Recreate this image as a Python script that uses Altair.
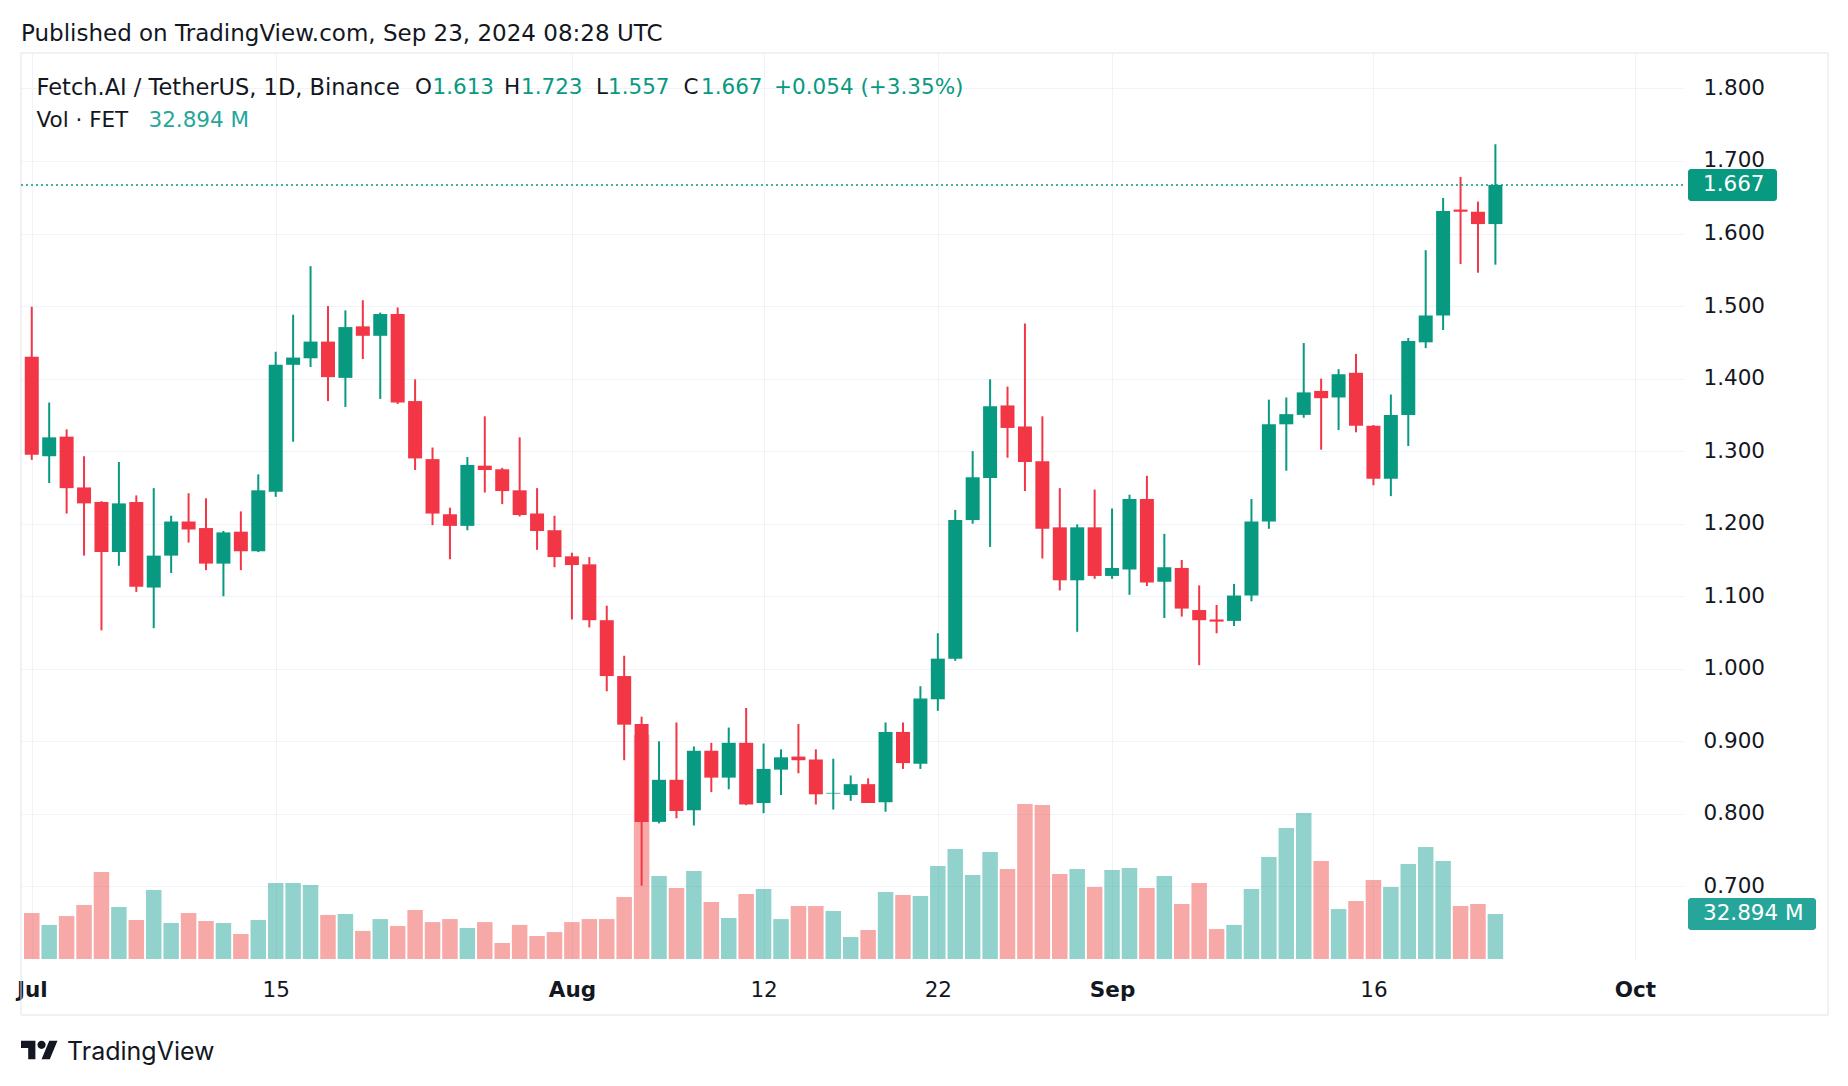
import altair as alt
import pandas as pd

# ---------------- data (FET/USDT daily, Jul 1 -> Sep 23, 2024) ----------------
opens = [1.430, 1.293, 1.320, 1.250, 1.230, 1.161, 1.230, 1.112, 1.156, 1.203,
         1.194, 1.145, 1.189, 1.162, 1.244, 1.419, 1.428, 1.451, 1.401, 1.472,
         1.459, 1.489, 1.369, 1.289, 1.213, 1.197, 1.280, 1.275, 1.246, 1.214,
         1.191, 1.155, 1.144, 1.067, 0.990, 0.924, 0.789, 0.847, 0.805, 0.887,
         0.850, 0.898, 0.815, 0.861, 0.879, 0.875, 0.828, 0.826, 0.841, 0.816,
         0.913, 0.869, 0.958, 1.014, 1.205, 1.263, 1.363, 1.334, 1.286, 1.195,
         1.122, 1.195, 1.128, 1.137, 1.234, 1.120, 1.139, 1.081, 1.068, 1.066,
         1.101, 1.203, 1.337, 1.350, 1.383, 1.374, 1.408, 1.335, 1.262, 1.350,
         1.450, 1.487, 1.633, 1.630, 1.613]
highs = [1.499, 1.367, 1.330, 1.293, 1.231, 1.285, 1.239, 1.249, 1.211, 1.242,
         1.235, 1.190, 1.217, 1.268, 1.437, 1.488, 1.555, 1.500, 1.494, 1.508,
         1.491, 1.498, 1.399, 1.305, 1.222, 1.292, 1.348, 1.277, 1.319, 1.249,
         1.211, 1.160, 1.154, 1.087, 1.018, 0.934, 0.900, 0.926, 0.893, 0.898,
         0.919, 0.946, 0.897, 0.889, 0.924, 0.889, 0.876, 0.853, 0.849, 0.926,
         0.926, 0.976, 1.049, 1.219, 1.300, 1.399, 1.389, 1.476, 1.348, 1.249,
         1.199, 1.247, 1.221, 1.240, 1.266, 1.186, 1.150, 1.115, 1.088, 1.117,
         1.234, 1.371, 1.374, 1.449, 1.400, 1.413, 1.434, 1.336, 1.378, 1.456,
         1.577, 1.649, 1.678, 1.644, 1.723]
lows = [1.288, 1.256, 1.214, 1.156, 1.053, 1.142, 1.106, 1.056, 1.132, 1.174,
        1.136, 1.100, 1.136, 1.161, 1.237, 1.313, 1.416, 1.369, 1.361, 1.427,
        1.372, 1.365, 1.274, 1.198, 1.151, 1.191, 1.243, 1.227, 1.210, 1.164,
        1.140, 1.068, 1.057, 0.969, 0.874, 0.701, 0.787, 0.794, 0.784, 0.830,
        0.834, 0.812, 0.801, 0.826, 0.856, 0.813, 0.806, 0.818, 0.815, 0.803,
        0.862, 0.862, 0.942, 1.011, 1.200, 1.168, 1.291, 1.245, 1.152, 1.108,
        1.051, 1.124, 1.124, 1.102, 1.114, 1.070, 1.072, 1.005, 1.049, 1.059,
        1.093, 1.193, 1.273, 1.346, 1.302, 1.329, 1.326, 1.253, 1.238, 1.307,
        1.442, 1.467, 1.558, 1.546, 1.557]
closes = [1.295, 1.319, 1.249, 1.228, 1.161, 1.228, 1.113, 1.156, 1.203, 1.192,
          1.145, 1.188, 1.162, 1.246, 1.419, 1.429, 1.451, 1.402, 1.471, 1.459,
          1.489, 1.367, 1.290, 1.214, 1.197, 1.281, 1.274, 1.245, 1.212, 1.190,
          1.154, 1.143, 1.067, 0.990, 0.923, 0.789, 0.847, 0.804, 0.887, 0.850,
          0.898, 0.813, 0.862, 0.878, 0.874, 0.827, 0.829, 0.841, 0.815, 0.913,
          0.870, 0.959, 1.014, 1.205, 1.264, 1.362, 1.332, 1.285, 1.193, 1.122,
          1.195, 1.128, 1.139, 1.234, 1.119, 1.140, 1.083, 1.067, 1.065, 1.101,
          1.203, 1.337, 1.351, 1.381, 1.373, 1.406, 1.335, 1.262, 1.350, 1.452,
          1.487, 1.631, 1.630, 1.613, 1.667]
volumes = [33.6, 24.9, 31.4, 39.5, 63.6, 38.0, 28.5, 50.4, 26.3, 33.6,
           27.8, 26.3, 18.3, 28.5, 55.6, 55.6, 54.1, 32.2, 32.9, 20.5,
           29.2, 24.1, 35.8, 27.0, 29.2, 22.7, 27.0, 11.7, 24.9, 16.8,
           19.7, 27.0, 29.2, 29.2, 45.3, 164.0, 60.7, 51.9, 64.3, 41.7,
           30.0, 47.5, 51.2, 29.2, 38.7, 38.7, 35.1, 16.1, 21.2, 49.0,
           46.8, 46.1, 68.0, 80.4, 61.4, 78.2, 65.8, 113.3, 112.6, 62.1,
           65.8, 52.6, 65.1, 66.5, 51.9, 60.7, 40.2, 55.6, 21.9, 24.9,
           51.2, 74.6, 95.8, 106.7, 71.6, 36.5, 42.4, 57.7, 52.6, 69.4,
           81.9, 71.6, 38.7, 40.2, 32.894]

tick_days = [0, 14, 31, 42, 52, 62, 77, 92]          # days since Jul 1
tick_labels = ["Jul", "15", "Aug", "12", "22", "Sep", "16", "Oct"]
bold_labels = ["Jul", "Aug", "Sep", "Oct"]
price_ticks = [0.7, 0.8, 0.9, 1.0, 1.1, 1.2, 1.3, 1.4, 1.5, 1.6, 1.7, 1.8]

published = "Published on TradingView.com, Sep 23, 2024 08:28 UTC"
pair_name = "Fetch.AI / TetherUS, 1D, Binance"
vol_name = "Vol · FET"
brand = "TradingView"

# ---------------- styling ----------------
FONT = "DejaVu Sans"
BRAND_FONT = "Inter"
INK = "#131722"
UP = "#089981"
DOWN = "#F23645"
VUP = "#26a69a"
VDOWN = "#ef5350"
GRID = "#f0f3fa"
BOX = "#e0e3eb"
FS = 21.5
W, H = 1662, 906

n = len(opens)
df = pd.DataFrame({"day": list(range(n)), "open": opens, "high": highs,
                   "low": lows, "close": closes, "volume": volumes})
df["up"] = df["close"] >= df["open"]
last = df.tail(1).copy()
dummy = pd.DataFrame({"k": [0]})

chg = closes[-1] - closes[-2]
pct = chg / closes[-2] * 100

x_scale = alt.Scale(domain=[-0.331, 94.48], nice=False, zero=False)
y_scale = alt.Scale(domain=[0.6, 1.8488], nice=False, zero=False)
v_scale = alt.Scale(domain=[0, 662.3], nice=False, zero=True)

label_expr = "".join(f"datum.value == {d} ? '{l}' : " for d, l in zip(tick_days, tick_labels)) + "''"
bold_test = " || ".join(f"datum.value == {d}" for d, l in zip(tick_days, tick_labels) if l in bold_labels)

x_axis = alt.Axis(values=tick_days, labelExpr=label_expr, labelFlush=False, labelOverlap=False,
                  grid=True, gridColor=GRID, gridWidth=1, ticks=False, domain=False,
                  labelFont=FONT, labelFontSize=FS, labelColor=INK, labelPadding=20, labelAngle=0,
                  labelFontWeight={"condition": {"test": bold_test, "value": "bold"}, "value": "normal"})
y_axis = alt.Axis(orient="right", values=price_ticks, format=".3f", grid=True, gridColor=GRID,
                  ticks=False, domain=False, labelFont=FONT, labelFontSize=FS, labelColor=INK,
                  labelPadding=20, labelAlign="left", labelBaseline="middle")

X = alt.X("day:Q", scale=x_scale, axis=x_axis, title=None)
candle_color = alt.condition("datum.up", alt.value(UP), alt.value(DOWN))
vol_color = alt.condition("datum.up", alt.value(VUP), alt.value(VDOWN))

# ---------------- volume pane ----------------
vol_bars = alt.Chart(df).mark_bar(size=15.5, clip=True, opacity=0.5).encode(
    x=X, y=alt.Y("volume:Q", scale=v_scale, axis=None), color=vol_color)
vol_box = alt.Chart(last).mark_rect(cornerRadius=3, yOffset=-16, y2Offset=16, color=VUP).encode(
    x=alt.value(W + 5), x2=alt.value(W + 133),
    y=alt.Y("volume:Q", scale=v_scale, axis=None), y2=alt.Y2("volume"))
vol_txt = alt.Chart(last).transform_calculate(
    lbl="format(datum.volume, '.3f') + ' M'"
).mark_text(align="left", baseline="middle", color="white", font=FONT, fontSize=FS).encode(
    x=alt.value(W + 20), y=alt.Y("volume:Q", scale=v_scale, axis=None), text="lbl:N")
vol_group = alt.layer(vol_bars, vol_box, vol_txt)

# ---------------- price pane ----------------
box = alt.Chart(dummy).mark_rect(fill="white", fillOpacity=0, stroke=BOX, strokeWidth=1).encode(
    x=alt.value(0), x2=alt.value(1807), y=alt.value(0), y2=alt.value(962))
wicks = alt.Chart(df).mark_rule(strokeWidth=2, clip=True).encode(
    x=X, y=alt.Y("low:Q", scale=y_scale, axis=y_axis, title=None), y2=alt.Y2("high"),
    color=candle_color)
bodies = alt.Chart(df).mark_bar(size=14, clip=True).encode(
    x=X, y=alt.Y("open:Q", scale=y_scale, axis=y_axis, title=None), y2=alt.Y2("close"),
    color=candle_color)
last_line = alt.Chart(last).mark_rule(strokeDash=[2, 3], strokeWidth=1.5, color=UP).encode(
    x=alt.value(0), x2=alt.value(W),
    y=alt.Y("close:Q", scale=y_scale, axis=y_axis, title=None))
price_box = alt.Chart(last).mark_rect(cornerRadius=3, yOffset=-16, y2Offset=16, color=UP).encode(
    x=alt.value(W + 5), x2=alt.value(W + 94),
    y=alt.Y("close:Q", scale=y_scale, axis=y_axis, title=None), y2=alt.Y2("close"))
price_txt = alt.Chart(last).transform_calculate(
    lbl="format(datum.close, '.3f')"
).mark_text(align="left", baseline="middle", color="white", font=FONT, fontSize=FS).encode(
    x=alt.value(W + 20), y=alt.Y("close:Q", scale=y_scale, axis=y_axis, title=None), text="lbl:N")


def label(text, px, py, color=INK, size=FS, weight="normal", font=FONT):
    return alt.Chart(dummy).mark_text(
        text=text, align="left", baseline="middle", font=font, fontSize=size,
        fontWeight=weight, color=color
    ).encode(x=alt.value(px), y=alt.value(py))


chg_color = UP if chg >= 0 else DOWN
header_segments = [
    (pair_name, INK), ("O", INK), (f"{opens[-1]:.3f}", chg_color),
    ("H", INK), (f"{highs[-1]:.3f}", chg_color),
    ("L", INK), (f"{lows[-1]:.3f}", chg_color),
    ("C", INK), (f"{closes[-1]:.3f}", chg_color),
    (f"{chg:+.3f} ({pct:+.2f}%)", chg_color),
]
header_x = [15.5, 394, 411.5, 483, 500, 575, 587, 662.6, 680, 753]
header_size = [22.5] + [FS] * 9
texts = [label(t, px, 35, c, sz) for (t, c), px, sz in zip(header_segments, header_x, header_size)]
texts.append(label(vol_name, 15.5, 68))
texts.append(label(f"{volumes[-1]:.3f} M", 127.5, 68, VUP))
texts.append(label(published, 0, -19, INK, 23))
texts.append(label(brand, 46, H + 93, INK, 25, font=BRAND_FONT))

logo_path = ("M-0.222,0.444H-0.611V-0.167H-1V-0.556H-0.222Z "
             "M0.556,0.444H0.111L0.528,-0.556H0.972Z "
             "M-0.111,-0.333A0.222,0.222 0 1,0 0.333,-0.333A0.222,0.222 0 1,0 -0.111,-0.333Z")
logo = alt.Chart(dummy).mark_point(shape=logo_path, size=1369, filled=True, color=INK,
                                   opacity=1, strokeWidth=0).encode(
    x=alt.value(18.5), y=alt.value(H + 92))

price_group = alt.layer(box, wicks, bodies, last_line, price_box, price_txt, logo, *texts)

chart = alt.layer(vol_group, price_group).resolve_scale(y="independent").properties(
    width=W, height=H,
    padding={"left": 13, "top": 45, "right": 150, "bottom": 108},
    autosize=alt.AutoSizeParams(type="none"),
    background="white",
).configure_view(stroke=None)

chart.save("out.html", embed_options={"renderer": "svg", "actions": False})
